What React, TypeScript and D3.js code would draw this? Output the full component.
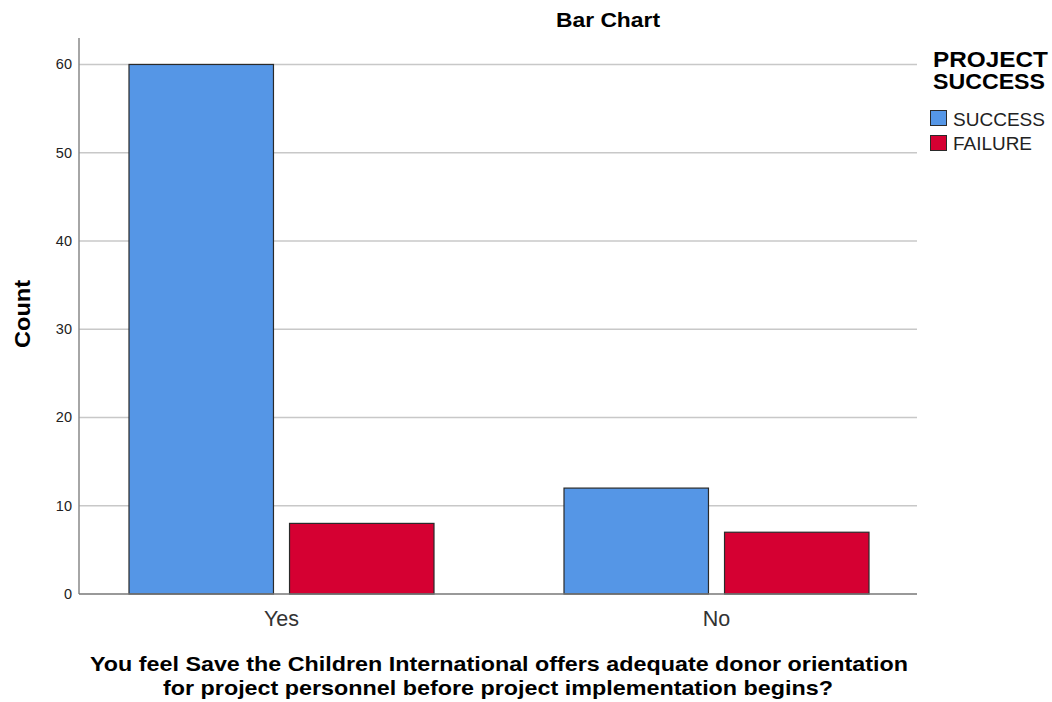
import React from "react";
import * as d3 from "d3";

const categories = ["Yes", "No"];
const seriesNames = ["SUCCESS", "FAILURE"];
const successValues = [60, 12];
const failureValues = [8, 7];
const yTicks = [0, 10, 20, 30, 40, 50, 60];
const colors = ["#5596E6", "#D50032"];

export default function App() {
  const W = 1052, H = 702;
  const left = 79, right = 917, top = 38, bottom = 594;
  const y = d3.scaleLinear().domain([0, 63]).range([bottom, top]);
  const x0 = d3.scaleBand().domain(categories).range([64, 934]).padding(0);
  const x1 = d3.scaleBand().domain(seriesNames).range([-152.5, 152.5]).paddingInner(0.1);
  const series = [successValues, failureValues];
  const font = "'Liberation Sans', Arial, sans-serif";
  return (
    <svg width={W} height={H} style={{ position: "absolute", left: 0, top: 0, fontFamily: font }}>
      <rect width={W} height={H} fill="#fff" />
      <text x={556} y={27} fontSize={21} fontWeight="bold" fill="#000" textLength={104} lengthAdjust="spacingAndGlyphs">Bar Chart</text>
      {yTicks.filter(t => t > 0).map(t => (
        <line key={t} x1={left} x2={right} y1={y(t)} y2={y(t)} stroke="#c8c8c8" strokeWidth={1.5} />
      ))}
      {yTicks.map(t => (
        <text key={t} x={72} y={y(t) + 5} textAnchor="end" fontSize={14.5} fill="#222">{t}</text>
      ))}
      {categories.map((c, ci) =>
        seriesNames.map((s, si) => {
          const cx = (x0(c) as number) + x0.bandwidth() / 2;
          const bx = cx + (x1(s) as number);
          const v = series[si][ci];
          return (
            <rect key={c + s} x={bx} y={y(v)} width={x1.bandwidth()} height={bottom - y(v)}
              fill={colors[si]} stroke="#2a2a2a" strokeWidth={1.2} />
          );
        })
      )}
      <line x1={left} x2={left} y1={top} y2={bottom} stroke="#888" strokeWidth={1.5} />
      <line x1={left} x2={right} y1={bottom} y2={bottom} stroke="#777" strokeWidth={1.5} />
      {categories.map(c => (
        <text key={c} x={(x0(c) as number) + x0.bandwidth() / 2} y={626} textAnchor="middle" fontSize={21.5} fill="#333">{c}</text>
      ))}
      <text transform="translate(30,314) rotate(-90)" textAnchor="middle" fontSize={22} fontWeight="bold" fill="#000" textLength={68} lengthAdjust="spacingAndGlyphs">Count</text>
      <text x={90} y={671} fontSize={21} fontWeight="bold" fill="#000" textLength={818} lengthAdjust="spacingAndGlyphs">You feel Save the Children International offers adequate donor orientation</text>
      <text x={163} y={695} fontSize={21} fontWeight="bold" fill="#000" textLength={670} lengthAdjust="spacingAndGlyphs">for project personnel before project implementation begins?</text>
      <text x={933} y={67} fontSize={21.5} fontWeight="bold" fill="#000" textLength={115} lengthAdjust="spacingAndGlyphs">PROJECT</text>
      <text x={933} y={89} fontSize={21.5} fontWeight="bold" fill="#000" textLength={112} lengthAdjust="spacingAndGlyphs">SUCCESS</text>
      {seriesNames.map((s, i) => (
        <g key={s}>
          <rect x={930.5} y={110.5 + i * 25} width={16} height={15} fill={colors[i]} stroke="#2a2a2a" strokeWidth={1} />
          <text x={953} y={126 + i * 24} fontSize={18} fill="#222" textLength={s === "SUCCESS" ? 92 : 79} lengthAdjust="spacingAndGlyphs">{s}</text>
        </g>
      ))}
    </svg>
  );
}
